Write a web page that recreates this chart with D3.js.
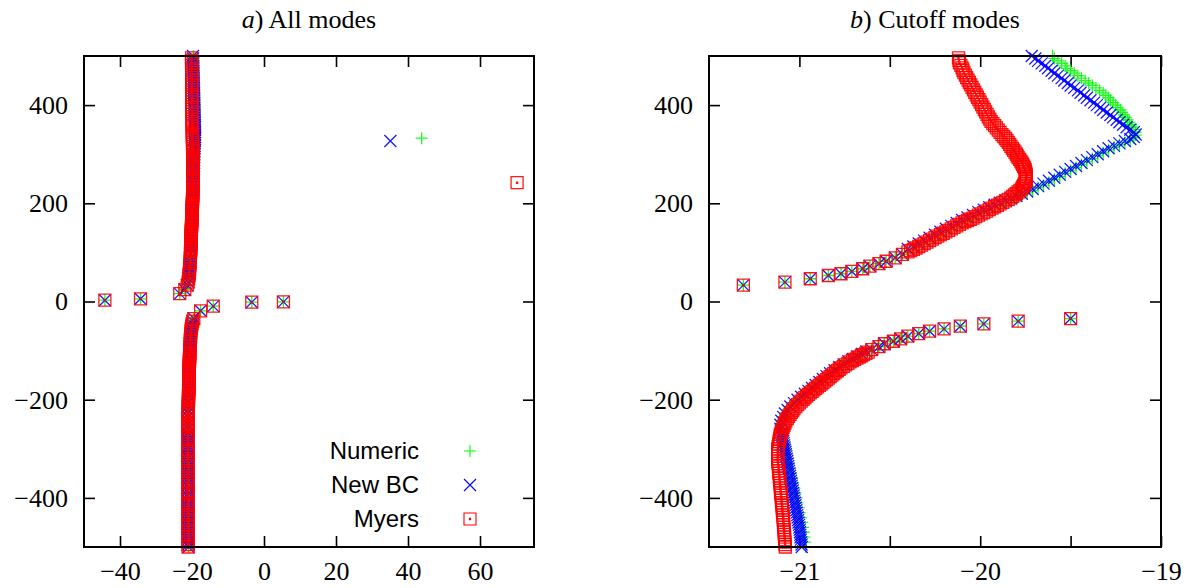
<!DOCTYPE html>
<html><head><meta charset="utf-8">
<script src="https://cdn.jsdelivr.net/npm/d3@7"></script>
<style>
body{margin:0;background:#fff;}
svg{display:block;}
.tick text{font-family:"Liberation Serif","DejaVu Serif",serif;font-size:26px;fill:#000;}
.tick line{stroke:#000;stroke-width:1.6px;}
.title{font-family:"Liberation Serif","DejaVu Serif",serif;font-size:26px;fill:#000;}
.leg{font-family:"Liberation Sans",Arial,sans-serif;font-size:24px;fill:#000;}
</style></head><body>
<svg id="c" width="1192" height="588"></svg>
<script>
// ---------------- DATA ----------------
const seriesNames = ["Numeric", "New BC", "Myers"];
const panelTitles = [["a", ") All modes"], ["b", ") Cutoff modes"]];
const xTicksA = [-40, -20, 0, 20, 40, 60];
const xTicksB = [-21, -20.5, -20, -19.5, -19];
const yTicks = [-400, -200, 0, 200, 400];

// modes where all three methods coincide
const commonModes = [
  [-44.2,2.6],[-34.3,5.5],[-23.4,16],[-22.0,24],[-21.31,33.3],[-21.08,39.4],[-20.94,46.3],[-20.84,53],
  [-20.77,56.5],[-20.71,61.2],[-20.65,66.7],[-20.61,72],[-20.56,77],[-20.52,82],[-20.47,89],[-20.43,96],
  [5.4,-0.7],[-3.4,-1.4],[-14.1,-9.5],[-17.6,-19],[-19.50,-34.7],[-19.79,-40],[-19.98,-45.6],[-20.11,-50.3],
  [-20.20,-55.8],[-20.28,-60.5],[-20.34,-65.3],[-20.40,-70.7],[-20.44,-76],[-20.48,-81],[-20.53,-86],
  [-20.56,-92],[-20.60,-98]
];
// lower bend where Numeric and New BC coincide
const numBcShared = [
  [-20.63,-102],[-20.655,-107],[-20.68,-112],[-20.705,-117],[-20.73,-122],[-20.755,-128],[-20.78,-134],
  [-20.805,-140],[-20.83,-146],[-20.85,-152],[-20.87,-158],[-20.89,-164],[-20.91,-170],[-20.93,-176],
  [-20.95,-182],[-20.97,-188],[-20.99,-194],[-21.01,-200],[-21.03,-207],[-21.05,-214],[-21.065,-221],
  [-21.08,-228],[-21.09,-235],[-21.10,-243],[-21.105,-251],[-21.105,-259]
];
const numericOnly = [
  [43.8,332.6],
  [-20.40,100],[-20.37,105],[-20.34,111],[-20.31,117],[-20.28,123],[-20.25,129],[-20.22,135],[-20.19,141],
  [-20.16,147],[-20.13,153],[-20.10,159],[-20.07,164],[-20.04,169],[-20.01,175],[-19.98,180],[-19.95,186],
  [-19.92,191],[-19.89,196],[-19.86,201],[-19.83,206],[-19.80,211],[-19.77,216],[-19.74,221],[-19.71,226],
  [-19.68,232],[-19.65,237],[-19.62,243],[-19.59,249],[-19.56,255],[-19.53,261],[-19.50,267],[-19.47,273],
  [-19.44,279],[-19.41,285],[-19.38,291],[-19.35,297],[-19.32,303],[-19.29,309],[-19.26,314],[-19.23,319],
  [-19.20,324],[-19.17,329],[-19.15,334],[-19.14,339],
  [-19.14,345],[-19.15,350],[-19.16,355],[-19.165,360],[-19.175,365],[-19.185,370],[-19.195,375],[-19.205,380],
  [-19.215,385],[-19.225,390],[-19.24,395],[-19.25,400],[-19.265,405],[-19.28,410],[-19.29,415],[-19.305,420],
  [-19.32,425],[-19.34,430],[-19.36,435],[-19.38,440],[-19.40,445],[-19.42,450],[-19.44,455],[-19.46,460],
  [-19.48,465],[-19.50,470],[-19.52,475],[-19.53,480],[-19.55,485],[-19.57,490],[-19.59,495],[-19.60,500],
  [-21.10,-267],[-21.094,-275],[-21.088,-284],[-21.082,-293],[-21.076,-302],[-21.07,-311],[-21.064,-320],
  [-21.058,-330],[-21.052,-340],[-21.046,-350],[-21.04,-360],[-21.034,-370],[-21.028,-380],[-21.022,-390],
  [-21.016,-400],[-21.01,-410],[-21.004,-420],[-20.998,-430],[-20.992,-440],[-20.986,-450],[-20.98,-460],
  [-20.976,-470],[-20.972,-480],[-20.968,-490],[-20.964,-500]
];
const newBcOnly = [
  [35.1,327],
  [-20.40,107],[-20.37,112],[-20.34,118],[-20.31,124],[-20.28,130],[-20.25,136],[-20.22,142],[-20.19,148],
  [-20.16,154],[-20.13,160],[-20.10,166],[-20.07,171],[-20.04,176],[-20.01,182],[-19.98,187],[-19.95,192],
  [-19.92,197],[-19.89,201],[-19.86,206],[-19.83,210],[-19.80,215],[-19.77,219.5],[-19.74,224],[-19.71,229],
  [-19.68,235],[-19.65,240],[-19.62,246],[-19.59,252],[-19.56,258],[-19.53,264],[-19.50,270],[-19.47,276],
  [-19.44,282],[-19.41,288],[-19.38,294],[-19.35,300],[-19.32,306],[-19.29,312],[-19.26,317],[-19.23,322],
  [-19.20,327],[-19.17,331],[-19.15,335],[-19.14,340],
  [-19.15,345],[-19.17,350],[-19.19,355],[-19.21,360],[-19.23,365],[-19.245,370],[-19.265,375],[-19.28,380],
  [-19.30,385],[-19.32,390],[-19.335,395],[-19.355,400],[-19.37,405],[-19.39,410],[-19.41,415],[-19.425,420],
  [-19.445,425],[-19.46,430],[-19.48,435],[-19.50,440],[-19.515,445],[-19.535,450],[-19.55,455],[-19.57,460],
  [-19.59,465],[-19.605,470],[-19.625,475],[-19.64,480],[-19.66,485],[-19.68,490],[-19.695,495],[-19.715,500],
  [-21.10,-267],[-21.097,-271],[-21.095,-275],[-21.092,-279.5],[-21.09,-284],[-21.087,-288.5],[-21.085,-293],
  [-21.082,-297.5],[-21.08,-302],[-21.077,-306.5],[-21.075,-311],[-21.072,-315.5],[-21.07,-320],[-21.067,-325],
  [-21.065,-330],[-21.062,-335],[-21.06,-340],[-21.057,-345],[-21.055,-350],[-21.052,-355],[-21.05,-360],
  [-21.047,-365],[-21.045,-370],[-21.042,-375],[-21.04,-380],[-21.037,-385],[-21.035,-390],[-21.032,-395],
  [-21.03,-400],[-21.027,-405],[-21.025,-410],[-21.022,-415],[-21.02,-420],[-21.017,-425],[-21.015,-430],
  [-21.012,-435],[-21.01,-440],[-21.007,-445],[-21.005,-450],[-21.002,-455],[-21.00,-460],[-20.998,-465],
  [-20.997,-470],[-20.995,-475],[-20.994,-480],[-20.992,-485],[-20.99,-490],[-20.988,-495],[-20.987,-500]
];
const myersOnly = [
  [70.3,242],
  [-20.40,101],[-20.385,103.5],[-20.37,106],[-20.355,109],[-20.34,112],[-20.325,115],[-20.31,118],[-20.295,121],
  [-20.28,124],[-20.265,127],[-20.25,130],[-20.235,133],[-20.22,136],[-20.205,139],[-20.19,142],[-20.175,145],
  [-20.16,148],[-20.145,151],[-20.13,154],[-20.115,157],[-20.10,160],[-20.085,162.5],[-20.07,165],[-20.055,167.5],
  [-20.04,170],[-20.025,173],[-20.01,176],[-19.995,178.5],[-19.98,181],[-19.965,184],[-19.95,187],[-19.935,190],
  [-19.92,193],[-19.905,196],[-19.89,199],[-19.875,202],[-19.86,205],[-19.845,208],[-19.83,211],[-19.82,214],
  [-19.81,217],[-19.80,220],[-19.79,223],[-19.78,226.5],[-19.77,230],[-19.765,233.5],[-19.76,237],[-19.755,240.5],
  [-19.75,244],[-19.747,247.5],[-19.745,251],[-19.745,254.5],[-19.745,258],[-19.747,261.5],[-19.75,265],
  [-19.752,268.5],[-19.755,272],[-19.76,275.5],[-19.765,279],[-19.77,282.5],[-19.775,286],[-19.782,289.5],
  [-19.79,293],[-19.795,296.5],[-19.80,300],[-19.807,304],[-19.815,308],[-19.822,312],[-19.83,316],[-19.837,320],
  [-19.845,324],[-19.852,328],[-19.86,332],[-19.87,336],[-19.88,340],[-19.89,344.5],[-19.90,349],[-19.91,353.5],
  [-19.92,358],[-19.93,362.5],[-19.94,367],[-19.947,371.5],[-19.955,376],[-19.962,381],[-19.97,386],[-19.977,391],
  [-19.985,396],[-19.992,401],[-20.00,406],[-20.007,411],[-20.015,416],[-20.022,421],[-20.03,426],[-20.037,431],
  [-20.045,436],[-20.052,441],[-20.06,446],[-20.067,451],[-20.075,456],[-20.082,461],[-20.09,466],[-20.095,471],
  [-20.10,476],[-20.107,481],[-20.115,486],[-20.117,491],[-20.12,496],
  [-20.62,-103],[-20.632,-105.5],[-20.645,-108],[-20.657,-110.5],[-20.67,-113],[-20.682,-115.5],[-20.695,-118],
  [-20.707,-120.5],[-20.72,-123],[-20.732,-126],[-20.745,-129],[-20.757,-132],[-20.77,-135],[-20.78,-138],
  [-20.79,-141],[-20.80,-144],[-20.81,-147],[-20.82,-150],[-20.83,-153],[-20.84,-156],[-20.85,-159],[-20.86,-162],
  [-20.87,-165],[-20.88,-168],[-20.89,-171],[-20.90,-174],[-20.91,-177],[-20.92,-180],[-20.93,-183],[-20.94,-186],
  [-20.95,-189],[-20.96,-192.5],[-20.97,-196],[-20.98,-199.5],[-20.99,-203],[-21.00,-206.5],[-21.01,-210],
  [-21.02,-214],[-21.03,-218],[-21.037,-222],[-21.045,-226],[-21.052,-230],[-21.06,-234],[-21.067,-238.5],
  [-21.075,-243],[-21.08,-247.5],[-21.085,-252],[-21.09,-256.5],[-21.095,-261],[-21.10,-265.5],[-21.105,-270],
  [-21.107,-275],[-21.11,-280],[-21.112,-285],[-21.115,-290],[-21.117,-295],[-21.12,-300],[-21.12,-305],
  [-21.12,-310],[-21.12,-315],[-21.12,-320],[-21.119,-325],[-21.118,-330],[-21.116,-335],[-21.115,-340],
  [-21.114,-345],[-21.113,-350],[-21.111,-355],[-21.11,-360],[-21.109,-365],[-21.108,-370],[-21.106,-375],
  [-21.105,-380],[-21.104,-385],[-21.103,-390],[-21.101,-395],[-21.10,-400],[-21.099,-405],[-21.098,-410],
  [-21.096,-415],[-21.095,-420],[-21.094,-425],[-21.093,-430],[-21.091,-435],[-21.09,-440],[-21.089,-445],
  [-21.088,-450],[-21.087,-455],[-21.086,-460],[-21.085,-465],[-21.084,-470],[-21.083,-475],[-21.082,-480],
  [-21.081,-485],[-21.08,-490],[-21.079,-495],[-21.078,-500]
];

// ---------------- DRAWING ----------------
const numeric = commonModes.concat(numBcShared, numericOnly);
const newBc = commonModes.concat(numBcShared, newBcOnly);
const myers = commonModes.concat(myersOnly);

const colors = ["#00ff00", "#0000ff", "#ff0000"];
const H = 6;
const symbols = [
  `M${-H},0H${H}M0,${-H}V${H}`,
  `M${-H},${-H}L${H},${H}M${-H},${H}L${H},${-H}`,
  `M${-H},${-H}H${H}V${H}H${-H}Z M-0.6,-0.6h1.2v1.2h-1.2Z`
];
const allSeries = [numeric, newBc, myers];

const svg = d3.select("#c");
const y = d3.scaleLinear([-500, 500], [547, 56]);
const fmt = d3.format("d");

const panels = [
  {x: d3.scaleLinear([-50, 75], [84, 534]), ticks: xTicksA, label: d => fmt(d), legend: true},
  {x: d3.scaleLinear([-21.5, -19], [709, 1161]), ticks: xTicksB, label: d => Number.isInteger(d) ? fmt(d) : "", legend: false}
];

panels.forEach((p, i) => {
  const x = p.x;
  const [x0, x1] = x.range();
  const [y0, y1] = y.range();
  const g = svg.append("g");
  const TS = -11;
  const clean = sel => sel.select(".domain").remove();
  g.append("g").attr("transform", `translate(0,${y0})`)
    .call(d3.axisBottom(x).tickValues(p.ticks).tickFormat(p.label).tickSizeInner(TS).tickSizeOuter(0).tickPadding(15)).call(clean);
  g.append("g").attr("transform", `translate(0,${y1})`)
    .call(d3.axisTop(x).tickValues(p.ticks).tickFormat("").tickSizeInner(TS).tickSizeOuter(0)).call(clean);
  g.append("g").attr("transform", `translate(${x0},0)`)
    .call(d3.axisLeft(y).tickValues(yTicks).tickFormat(fmt).tickSizeInner(TS).tickSizeOuter(0).tickPadding(16)).call(clean);
  g.append("g").attr("transform", `translate(${x1},0)`)
    .call(d3.axisRight(y).tickValues(yTicks).tickFormat("").tickSizeInner(TS).tickSizeOuter(0)).call(clean);
  g.selectAll(".tick text").attr("font-family", null).attr("font-size", null);

  // markers
  const [dx0, dx1] = x.domain();
  allSeries.forEach((s, k) => {
    const pts = s.filter(d => d[0] >= dx0 && d[0] <= dx1 && d[1] >= -500 && d[1] <= 500);
    g.append("g").selectAll("path").data(pts).join("path")
      .attr("transform", d => `translate(${x(d[0])},${y(d[1])})`)
      .attr("d", symbols[k])
      .attr("fill", "none")
      .attr("stroke", colors[k])
      .attr("stroke-width", 1.3)
      .attr("stroke-opacity", 0.9);
  });

  g.append("rect").attr("x", x0).attr("y", y1).attr("width", x1 - x0).attr("height", y0 - y1)
    .attr("fill", "none").attr("stroke", "#000").attr("stroke-width", 2);

  const t = svg.append("text").attr("class", "title").attr("x", (x0 + x1) / 2).attr("y", 28).attr("text-anchor", "middle");
  t.append("tspan").attr("font-style", "italic").text(panelTitles[i][0]);
  t.append("tspan").text(panelTitles[i][1]);

  if (p.legend) {
    seriesNames.forEach((n, k) => {
      const by = 459 + k * 34;
      svg.append("text").attr("class", "leg").attr("x", 419).attr("y", by).attr("text-anchor", "end").text(n);
      svg.append("path").attr("transform", `translate(470,${by - 8})`).attr("d", symbols[k])
        .attr("fill", "none").attr("stroke", colors[k]).attr("stroke-width", 1.1);
    });
  }
});
</script>
</body></html>
